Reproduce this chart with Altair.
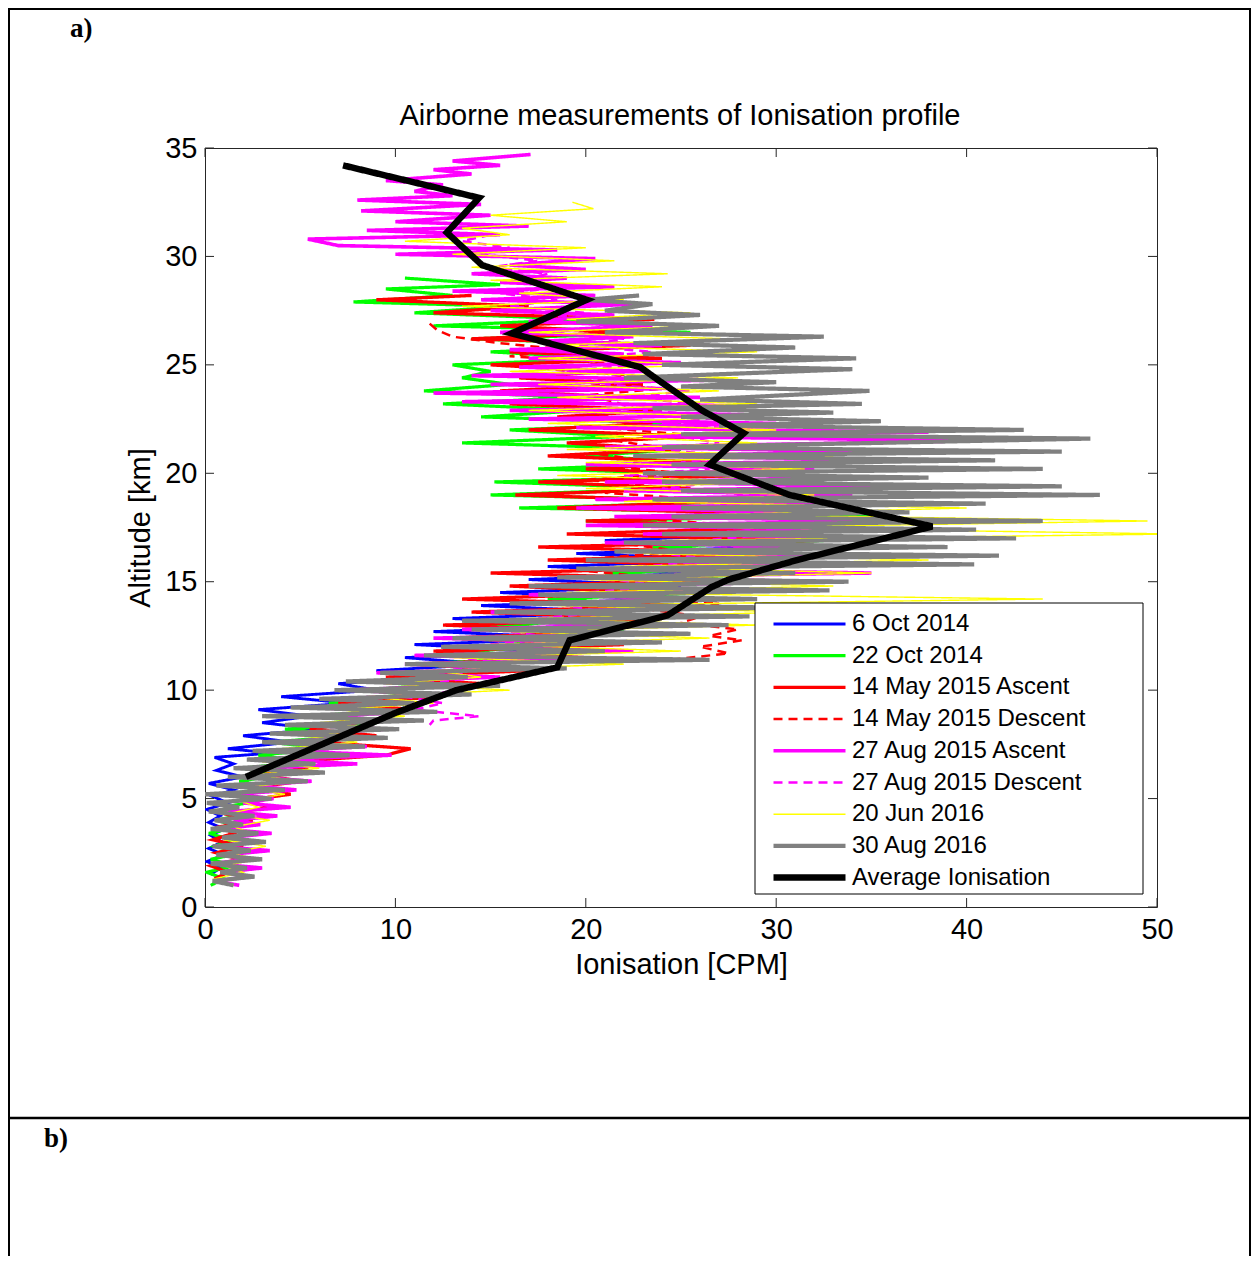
import altair as alt
import pandas as pd

X_TICKS = [0, 10, 20, 30, 40, 50]
Y_TICKS = [0, 5, 10, 15, 20, 25, 30, 35]

SERIES = ["6 Oct 2014", "22 Oct 2014", "14 May 2015 Ascent", "14 May 2015 Descent",
          "27 Aug 2015 Ascent", "27 Aug 2015 Descent", "20 Jun 2016", "30 Aug 2016",
          "Average Ionisation"]
COLORS = ["#0000ff", "#00ff00", "#ff0000", "#ff0000", "#ff00ff", "#ff00ff",
          "#ffff00", "#808080", "#000000"]
WIDTHS = [2.9, 3.2, 3.3, 2.5, 3.6, 2.5, 1.4, 4.2, 6.5]
DASHES = [[1, 0], [1, 0], [1, 0], [9, 6], [1, 0], [9, 6], [1, 0], [1, 0], [1, 0]]

# (altitude km, ionisation CPM) in flight order
BLUE = [(1.5,0.3),(1.8,0.8),(2.1,0.1),(2.4,1.0),(2.7,0.2),(3.0,0.9),(3.3,0.3),(3.6,1.0),
        (3.9,0.2),(4.2,0.8),(4.5,0.1),(4.8,1.2),(5.1,0.4),(5.4,1.5),(5.7,0.2),(6.0,2.0),
        (6.3,0.6),(6.6,1.5),(6.9,0.5),(7.1,3.5),(7.3,1.2),(7.6,4.5),(7.9,2.0),(8.2,6.0),
        (8.5,3.0),(8.8,5.5),(9.1,2.8),(9.4,7.5),(9.7,4.0),(10.0,9.0),(10.3,7.0),(10.6,12.0),
        (10.9,9.0),(11.2,15.0),(11.5,10.5),(11.8,18.0),(12.1,11.0),(12.4,20.0),(12.7,12.0),
        (13.0,21.0),(13.3,13.0),(13.6,22.0),(13.9,14.5),(14.2,24.0),(14.5,15.5),(14.8,25.0),
        (15.1,17.0),(15.4,26.0),(15.7,18.0),(16.0,28.0),(16.3,19.5),(16.6,29.5),(16.9,21.0),
        (17.1,27.0)]

GREEN = [(1.0,0.3),(1.3,1.0),(1.6,0.1),(1.9,1.5),(2.2,0.3),(2.5,2.0),(2.8,0.5),(3.1,1.4),
         (3.4,0.2),(3.7,1.8),(4.0,0.6),(4.3,2.2),(4.6,1.0),(4.9,2.8),(5.2,1.2),(5.5,3.4),
         (5.8,1.8),(6.1,4.0),(6.4,2.0),(6.7,5.2),(7.0,2.8),(7.3,6.5),(7.6,3.4),(7.9,7.8),
         (8.2,4.2),(8.5,9.0),(8.8,5.5),(9.1,10.5),(9.4,6.5),(9.7,11.5),(10.0,8.5),(10.3,12.5),
         (10.6,10.0),(10.9,16.0),(11.2,11.0),(11.5,18.0),(11.8,13.5),(12.1,20.5),(12.4,13.0),
         (12.7,22.0),(13.0,15.0),(13.3,24.0),(13.6,16.5),(13.9,25.0),(14.2,18.0),(14.5,26.5),
         (14.8,19.5),(15.1,27.5),(15.4,21.0),(15.7,30.0),(16.0,22.0),(16.3,31.0),(16.6,23.5),
         (16.9,32.5),(17.2,24.0),(17.5,34.0),(17.8,20.0),(18.1,36.0),(18.4,16.5),(18.7,29.0),
         (19.0,15.0),(19.3,25.0),(19.6,15.2),(19.9,28.5),(20.2,17.5),(20.5,26.0),(20.8,20.0),
         (21.1,25.0),(21.4,13.5),(21.7,22.0),(22.0,16.0),(22.3,25.0),(22.6,14.5),(22.9,20.0),
         (23.2,12.5),(23.5,19.5),(23.8,11.5),(24.1,16.0),(24.4,13.5),(24.7,15.0),(25.0,13.0),
         (25.3,21.0),(25.6,15.0),(25.9,23.5),(26.2,14.0),(26.5,25.5),(26.8,12.0),(27.1,20.0),
         (27.4,11.0),(27.7,16.0),(27.9,7.8),(28.2,13.0),(28.5,9.5),(28.7,15.5),(29.0,10.5)]

RED_ASC = [(1.3,0.5),(1.6,1.2),(1.9,0.3),(2.2,1.8),(2.5,0.6),(2.8,2.0),(3.1,0.4),(3.4,1.5),
           (3.7,0.8),(4.0,2.5),(4.3,1.0),(4.6,3.5),(4.9,2.0),(5.2,4.5),(5.5,2.5),(5.8,5.0),
           (6.1,3.0),(6.4,5.2),(6.7,4.5),(7.0,9.5),(7.3,10.8),(7.6,6.0),(7.9,9.0),(8.2,5.5),
           (8.5,8.0),(8.8,6.5),(9.1,11.0),(9.4,7.0),(9.7,12.5),(10.0,8.5),(10.3,14.5),(10.6,9.5),
           (10.9,17.0),(11.2,11.0),(11.5,20.0),(11.8,12.0),(12.1,22.0),(12.4,13.0),(12.7,21.0),
           (13.0,12.5),(13.3,24.0),(13.6,14.0),(13.9,25.0),(14.2,13.5),(14.5,23.5),(14.8,16.0),
           (15.1,27.0),(15.4,15.0),(15.7,28.5),(16.0,18.0),(16.3,30.0),(16.6,17.5),(16.9,32.0),
           (17.2,19.0),(17.5,30.5),(17.8,20.0),(18.1,31.0),(18.4,18.5),(18.7,27.0),(19.0,16.3),
           (19.3,25.5),(19.6,17.5),(19.9,28.0),(20.2,20.0),(20.5,26.5),(20.8,18.0),(21.1,24.5),
           (21.4,19.0),(21.7,26.0),(22.0,17.0),(22.3,23.5),(22.6,18.5),(22.9,24.0),(23.2,16.0),
           (23.5,22.0),(23.8,15.5),(24.1,23.0),(24.4,16.5),(24.7,21.0),(25.0,15.0),(25.3,24.0),
           (25.6,16.0),(25.9,25.5),(26.2,14.0),(26.5,22.0),(26.8,15.5),(27.1,23.6),(27.4,12.0),
           (27.7,17.0),(28.0,9.0),(28.2,14.0)]

RED_DESC = [(26.9,11.8),(26.6,12.2),(26.3,13.0),(26.0,15.5),(25.7,19.0),(25.4,16.0),(25.1,21.0),
            (24.8,18.0),(24.5,22.5),(24.2,19.5),(23.9,24.0),(23.6,20.0),(23.3,21.5),(23.0,22.5),
            (22.7,20.5),(22.4,23.0),(22.1,21.0),(21.8,25.0),(21.5,21.5),(21.2,24.0),(20.9,20.5),
            (20.6,23.0),(20.3,21.5),(20.0,25.0),(19.7,20.0),(19.4,23.5),(19.1,21.0),(18.8,26.0),
            (18.5,22.5),(18.2,27.0),(17.9,23.0),(17.6,28.0),(17.3,24.0),(17.0,27.5),(16.7,22.5),
            (16.4,25.0),(16.1,21.0),(15.8,24.5),(15.5,20.0),(15.2,23.5),(14.9,21.0),(14.6,25.5),
            (14.3,22.0),(14.0,27.0),(13.7,23.5),(13.4,26.0),(13.1,25.0),(12.8,28.0),(12.5,26.5),
            (12.3,28.2),(12.0,26.0),(11.7,27.5),(11.4,24.5)]

MAG_ASC = [(1.0,1.8),(1.2,0.5),(1.4,2.4),(1.6,0.9),(1.8,3.0),(2.0,0.4),(2.2,2.2),(2.4,1.0),
           (2.6,3.4),(2.8,0.6),(3.0,2.6),(3.2,1.2),(3.4,3.5),(3.6,0.8),(3.8,2.9),(4.0,1.5),
           (4.2,3.8),(4.4,1.2),(4.6,4.5),(4.8,2.0),(5.0,3.6),(5.2,1.5),(5.4,4.8),(5.6,2.2),
           (5.8,5.6),(6.0,2.5),(6.2,5.0),(6.4,3.0),(6.6,8.0),(6.8,3.5),(7.0,9.8),(7.2,4.2),
           (7.4,8.5),(7.6,4.0),(7.8,7.5),(8.0,5.2),(8.2,9.5),(8.4,5.0),(8.6,10.0),(8.8,6.2),
           (9.0,11.2),(9.2,5.5),(9.4,10.5),(9.6,7.0),(9.8,12.5),(10.0,7.5),(10.2,13.0),(10.4,8.5),
           (10.6,15.5),(10.8,9.0),(11.0,17.0),(11.2,10.5),(11.4,20.0),(11.6,11.0),(11.8,22.5),
           (12.0,13.0),(12.2,21.0),(12.4,12.0),(12.6,24.0),(12.8,13.5),(13.0,22.0),(13.2,14.5),
           (13.4,26.5),(13.6,15.0),(13.8,28.0),(14.0,16.5),(14.2,27.0),(14.4,17.0),(14.6,30.0),
           (14.8,18.5),(15.0,33.0),(15.2,19.0),(15.4,35.0),(15.6,20.5),(15.8,31.0),(16.0,21.0),
           (16.2,34.5),(16.4,22.5),(16.6,33.0),(16.8,21.0),(17.0,36.5),(17.2,23.0),(17.4,35.0),
           (17.6,20.0),(17.8,37.0),(18.0,21.5),(18.2,33.0),(18.4,19.5),(18.6,36.0),(18.8,20.5),
           (19.0,34.0),(19.2,22.0),(19.4,37.0),(19.6,21.0),(19.8,35.5),(20.0,23.0),(20.2,32.0),
           (20.4,20.0),(20.6,38.5),(20.8,22.5),(21.0,36.0),(21.2,21.0),(21.5,40.5),(21.7,23.0),
           (21.9,38.0),(22.1,19.5),(22.3,30.0),(22.5,17.0),(22.7,28.5),(22.9,16.0),(23.1,29.0),
           (23.3,13.5),(23.5,26.0),(23.7,12.0),(23.9,24.0),(24.1,15.0),(24.3,27.0),(24.5,14.0),
           (24.7,23.0),(24.9,16.5),(25.1,25.0),(25.3,17.0),(25.5,22.0),(25.7,16.0),(25.9,24.0),
           (26.1,18.0),(26.3,22.5),(26.5,15.5),(26.8,23.5),(27.0,17.0),(27.3,21.5),(27.5,15.0),
           (27.8,22.5),(28.0,14.5),(28.2,20.5),(28.4,13.0),(28.6,21.5),(28.8,15.5),(29.0,19.0),
           (29.2,14.0),(29.4,20.0),(29.6,16.0),(29.9,20.5),(30.1,10.0),(30.3,18.5),(30.5,7.0),
           (30.8,5.4),(31.0,15.5),(31.2,8.5),(31.4,17.0),(31.6,10.0),(31.9,15.0),(32.1,8.2),
           (32.4,14.5),(32.6,8.0),(32.8,13.0),(33.0,11.0),(33.3,12.5),(33.5,9.5),(33.8,14.0),
           (34.0,12.0),(34.2,15.5),(34.4,13.0),(34.7,17.1)]

MAG_DESC = [(31.0,15.0),(30.7,13.5),(30.4,16.0),(30.1,14.5),(29.8,17.5),(29.5,15.0),(29.2,18.0),
            (28.9,16.5),(28.6,19.0),(28.3,15.5),(28.0,18.5),(27.7,16.0),(27.4,20.0),(27.1,17.5),
            (26.8,21.5),(26.5,18.0),(26.2,22.0),(25.9,19.5),(25.6,23.5),(25.3,20.0),(25.0,22.5),
            (24.7,19.0),(24.4,24.0),(24.1,21.0),(23.8,25.5),(23.5,22.0),(23.2,26.0),(22.9,23.0),
            (22.6,27.5),(22.3,24.0),(22.0,28.5),(21.7,25.0),(21.4,27.0),(21.1,23.5),(20.8,28.0),
            (20.5,25.0),(20.2,26.5),(19.9,22.0),(19.6,27.0),(19.3,24.0),(19.0,29.0),(18.7,25.5),
            (18.4,30.0),(18.1,27.0),(17.8,31.5),(17.5,28.0),(17.2,30.0),(16.9,26.0),(16.6,28.5),
            (16.3,24.0),(16.0,27.0),(15.7,23.0),(15.4,25.5),(15.1,21.5),(14.8,24.0),(14.5,20.0),
            (14.2,22.5),(13.9,19.0),(13.6,21.0),(13.3,17.5),(13.0,20.0),(12.7,16.0),(12.4,18.5),
            (12.1,15.0),(11.8,17.0),(11.5,13.5),(11.2,16.0),(10.9,12.5),(10.6,14.5),(10.3,11.5),
            (10.0,13.5),(9.7,10.5),(9.4,12.5),(9.1,11.0),(8.8,14.4),(8.6,12.0),(8.4,11.8)]

YELLOW = [(1.0,1.5),(1.3,0.5),(1.6,2.0),(1.9,1.0),(2.2,2.8),(2.5,1.2),(2.8,3.2),(3.1,1.0),
          (3.4,2.5),(3.7,1.5),(4.0,3.4),(4.3,1.2),(4.6,2.8),(4.9,1.8),(5.2,4.2),(5.5,2.0),
          (5.8,5.0),(6.1,2.5),(6.4,6.0),(6.7,3.0),(7.0,7.0),(7.3,4.0),(7.6,8.0),(7.9,5.0),
          (8.2,9.5),(8.5,6.0),(8.8,10.5),(9.1,7.0),(9.4,12.0),(9.7,8.5),(10.0,16.0),(10.3,9.5),
          (10.6,14.5),(10.9,12.0),(11.2,22.0),(11.5,13.0),(11.8,25.0),(12.1,15.0),(12.4,26.5),
          (12.7,16.0),(13.0,29.0),(13.3,17.0),(13.6,31.0),(13.9,18.5),(14.2,44.0),(14.5,19.0),
          (14.8,33.0),(15.1,20.0),(15.4,35.0),(15.7,21.5),(16.0,38.0),(16.3,23.0),(16.6,36.0),
          (16.9,24.0),(17.2,51.0),(17.5,28.0),(17.8,49.5),(18.1,27.0),(18.4,40.0),(18.7,22.0),
          (19.0,32.0),(19.3,20.0),(19.6,30.0),(19.9,18.5),(20.2,31.5),(20.5,20.0),(20.8,33.0),
          (21.1,19.0),(21.4,29.0),(21.7,20.5),(22.0,30.0),(22.3,18.0),(22.6,28.5),(22.9,17.0),
          (23.2,29.0),(23.5,18.5),(23.8,27.0),(24.1,17.5),(24.4,28.0),(24.7,16.0),(25.0,26.5),
          (25.3,17.5),(25.6,29.0),(25.9,18.0),(26.2,27.5),(26.5,17.0),(26.8,26.0),(27.1,19.0),
          (27.4,25.5),(27.7,13.5),(28.0,22.0),(28.3,16.5),(28.6,24.0),(28.9,15.0),(29.2,24.3),
          (29.5,14.0),(29.8,21.5),(30.1,13.0),(30.4,20.0),(30.7,10.5),(31.0,16.0),(31.3,13.5),
          (31.6,19.0),(31.9,15.0),(32.2,20.4),(32.5,19.3)]

GRAY = [(1.0,1.5),(1.2,0.4),(1.4,2.6),(1.6,0.8),(1.8,2.2),(2.0,0.3),(2.2,3.0),(2.4,0.6),
        (2.6,2.4),(2.8,0.4),(3.0,3.2),(3.2,0.9),(3.4,2.8),(3.6,0.3),(3.8,2.0),(4.0,0.5),
        (4.2,2.6),(4.4,0.2),(4.6,1.8),(4.8,0.1),(5.0,3.5),(5.2,0.0),(5.4,4.2),(5.6,0.6),
        (5.8,5.4),(6.0,1.2),(6.2,6.3),(6.4,1.5),(6.6,5.8),(6.8,2.2),(7.0,7.6),(7.2,2.5),
        (7.4,8.4),(7.6,3.0),(7.8,9.6),(8.0,3.4),(8.2,10.2),(8.4,4.2),(8.6,11.5),(8.8,3.0),
        (9.0,12.2),(9.2,4.5),(9.4,11.0),(9.6,6.0),(9.8,14.0),(10.0,6.8),(10.2,15.5),(10.4,7.4),
        (10.6,13.8),(10.8,9.2),(11.0,19.0),(11.2,10.5),(11.4,26.5),(11.6,11.5),(11.8,21.0),
        (12.0,12.4),(12.2,24.0),(12.4,13.0),(12.6,25.5),(12.8,14.0),(13.0,27.5),(13.2,13.5),
        (13.4,28.6),(13.6,15.2),(13.8,30.5),(14.0,16.0),(14.2,29.0),(14.4,17.5),(14.6,32.8),
        (14.8,17.0),(15.0,33.8),(15.2,18.5),(15.4,31.0),(15.6,19.5),(15.8,40.4),(16.0,20.0),
        (16.2,41.7),(16.4,21.5),(16.6,39.0),(16.8,22.0),(17.0,42.6),(17.2,24.0),(17.4,40.5),
        (17.6,23.0),(17.8,44.0),(18.0,24.5),(18.2,37.0),(18.4,25.0),(18.6,41.0),(18.8,23.5),
        (19.0,47.0),(19.2,25.0),(19.4,45.0),(19.6,24.0),(19.8,38.0),(20.0,23.0),(20.2,44.0),
        (20.4,24.5),(20.6,41.5),(20.8,22.5),(21.0,45.0),(21.2,24.0),(21.6,46.5),(21.8,25.0),
        (22.0,43.0),(22.2,27.0),(22.4,35.5),(22.6,25.0),(22.8,33.0),(23.0,23.5),(23.2,34.5),
        (23.4,26.0),(23.8,34.9),(24.0,25.0),(24.2,30.0),(24.4,22.0),(24.8,34.0),(25.0,24.0),
        (25.3,34.2),(25.5,23.0),(25.8,31.0),(26.0,22.5),(26.3,32.5),(26.5,21.0),(26.8,27.0),
        (27.0,19.5),(27.3,26.0),(27.5,21.0),(27.8,23.5),(28.0,20.0),(28.2,22.8)]

AVERAGE = [(34.2,7.25),(32.7,14.4),(31.1,12.7),(29.6,14.55),(28.0,20.05),(26.45,16.1),
           (24.9,22.85),(24.3,23.8),(22.9,26.1),(21.85,28.3),(20.4,26.5),(19.0,30.7),
           (17.55,38.2),(16.0,31.1),(15.1,27.5),(14.75,26.6),(13.45,24.3),(12.3,19.15),
           (11.05,18.5),(10.0,13.2),(8.95,10.0),(6.0,2.15)]

ALL = [BLUE, GREEN, RED_ASC, RED_DESC, MAG_ASC, MAG_DESC, YELLOW, GRAY, AVERAGE]

rows = []
for name, pts in zip(SERIES, ALL):
    for i, (a, v) in enumerate(pts):
        rows.append({"series": name, "i": i, "alt": a, "ion": v})
df = pd.DataFrame(rows)

W, H = 952, 759
FONT = "Liberation Sans"
AXFS = 29
xscale = alt.Scale(domain=[0, 50], nice=False, zero=False)
yscale = alt.Scale(domain=[0, 35], nice=False, zero=False)
XAX = alt.Axis(title="Ionisation [CPM]", values=X_TICKS, ticks=False, grid=False,
               domain=False, labelPadding=8, titlePadding=6, labelFlush=False)
YAX = alt.Axis(title="Altitude [km]", values=Y_TICKS, ticks=False, grid=False,
               domain=False, labelPadding=8, titlePadding=9, labelFlush=False)

LEG = dict(title=None)
color_enc = alt.Color("series:N", scale=alt.Scale(domain=SERIES, range=COLORS),
                      legend=alt.Legend(**LEG))
dash_enc = alt.StrokeDash("series:N",
                          scale=alt.Scale(type="ordinal", domain=SERIES, range=DASHES),
                          legend=alt.Legend(**LEG))
width_enc = alt.StrokeWidth("series:N",
                            scale=alt.Scale(type="ordinal", domain=SERIES, range=WIDTHS),
                            legend=alt.Legend(**LEG))

base = alt.Chart(df)
layers = []
for s in SERIES:
    layers.append(
        base.transform_filter(alt.datum.series == s)
        .mark_line(clip=True, strokeCap="butt", strokeJoin="miter")
        .encode(
            x=alt.X("ion:Q", scale=xscale, axis=XAX),
            y=alt.Y("alt:Q", scale=yscale, axis=YAX),
            order=alt.Order("i:Q"),
            color=color_enc,
            strokeDash=dash_enc,
            strokeWidth=width_enc,
        )
    )

one = alt.Chart(pd.DataFrame({"k": [0]}))
# opaque legend box (legend entries are drawn on top of it)
legend_box = one.mark_rect(fill="white", stroke="black", strokeWidth=1).encode(
    x=alt.value(550), x2=alt.value(938), y=alt.value(455), y2=alt.value(746))

tick_color = "#262626"
xt = alt.Chart(pd.DataFrame({"ion": X_TICKS}))
yt = alt.Chart(pd.DataFrame({"alt": Y_TICKS}))
ticks = [
    xt.mark_rule(color=tick_color, strokeWidth=1).encode(
        x=alt.X("ion:Q", scale=xscale, axis=XAX), y=alt.value(H), y2=alt.value(H - 9)),
    xt.mark_rule(color=tick_color, strokeWidth=1).encode(
        x=alt.X("ion:Q", scale=xscale, axis=XAX), y=alt.value(0), y2=alt.value(9)),
    yt.mark_rule(color=tick_color, strokeWidth=1).encode(
        y=alt.Y("alt:Q", scale=yscale, axis=YAX), x=alt.value(0), x2=alt.value(9)),
    yt.mark_rule(color=tick_color, strokeWidth=1).encode(
        y=alt.Y("alt:Q", scale=yscale, axis=YAX), x=alt.value(W), x2=alt.value(W - 9)),
]

frame = [
    one.mark_rule(color="black", strokeWidth=2).encode(
        x=alt.value(-196), x2=alt.value(1045), y=alt.value(-139)),
    one.mark_rule(color="black", strokeWidth=2).encode(
        x=alt.value(-196), y=alt.value(-140), y2=alt.value(1120)),
    one.mark_rule(color="black", strokeWidth=2).encode(
        x=alt.value(1045), y=alt.value(-140), y2=alt.value(1120)),
    one.mark_rule(color="black", strokeWidth=2.5).encode(
        x=alt.value(-196), x2=alt.value(1045), y=alt.value(970)),
    one.mark_text(font="Liberation Serif", fontSize=27, fontWeight="bold", align="left",
                  baseline="middle").encode(
        x=alt.value(-135), y=alt.value(-119), text=alt.value("a)")),
    one.mark_text(font="Liberation Serif", fontSize=27, fontWeight="bold", align="left",
                  baseline="middle").encode(
        x=alt.value(-161), y=alt.value(991), text=alt.value("b)")),
    one.mark_text(font=FONT, fontSize=AXFS, align="center", baseline="middle",
                  color="black").encode(
        x=alt.value(W / 2 - 1), y=alt.value(-32),
        text=alt.value("Airborne measurements of Ionisation profile")),
]

chart = alt.layer(*layers, legend_box, *ticks, *frame).resolve_scale(
    color="shared", strokeDash="shared", strokeWidth="shared"
).properties(
    width=W, height=H,
    padding={"left": 197, "top": 140, "right": 94, "bottom": 349},
    autosize="none",
).configure_view(
    stroke="#262626", strokeWidth=1
).configure_axis(
    labelFont=FONT, labelFontSize=AXFS, labelColor="black",
    titleFont=FONT, titleFontSize=AXFS, titleColor="black", titleFontWeight="normal",
).configure_legend(
    orient="none", legendX=565, legendY=464, padding=0,
    labelFont=FONT, labelFontSize=24, labelColor="black",
    symbolType="stroke", symbolSize=5184, clipHeight=24, rowPadding=7.7,
    labelOffset=3, labelLimit=600,
)

chart.save("out.html", embed_options={"renderer": "svg", "actions": False})
